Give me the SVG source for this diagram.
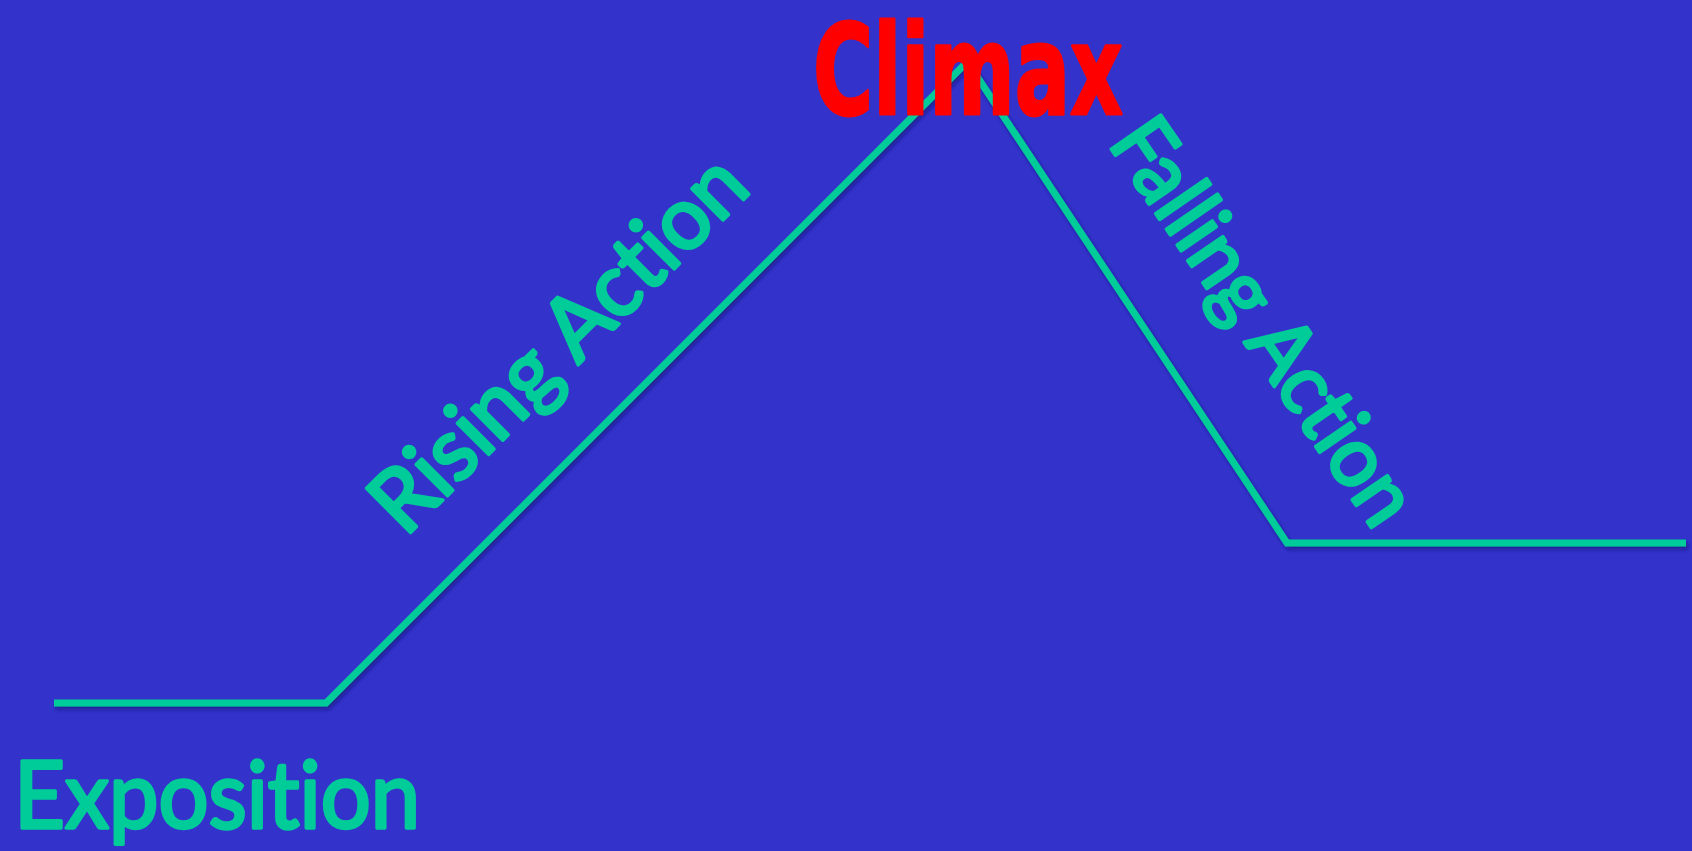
<svg xmlns="http://www.w3.org/2000/svg" width="1692" height="851" viewBox="0 0 1692 851">
  <defs>
    <filter id="shadow" x="-5%" y="-5%" width="110%" height="110%">
      <feDropShadow dx="2" dy="3" stdDeviation="2" flood-color="#15156a" flood-opacity="0.6"/>
    </filter>
  </defs>
  <style>
    .bg { fill: #3333CC; }
    .plot { fill: none; stroke: #00CC99; stroke-width: 7; stroke-linecap: butt; stroke-linejoin: miter; filter: url(#shadow); }
    .lbl { fill: #00CC99; stroke: #00CC99; stroke-width: 3.5; stroke-linejoin: round; font-family: "Lato", "Open Sans", sans-serif; font-weight: normal; font-variant-ligatures: none; font-feature-settings: "liga" 0, "clig" 0; }
    .climax { fill: #FF0000; stroke: #FF0000; stroke-width: 3; stroke-linejoin: round; font-family: "DejaVu Sans", "Liberation Sans", sans-serif; font-weight: bold; font-variant-ligatures: none; }
  </style>
  <rect class="bg" x="0" y="0" width="1692" height="851"/>
  <g id="connectors">
    <polyline class="plot" points="54,703 326,703 965,64"/>
    <polyline class="plot" points="968,63 1287,543 1686,543"/>
  </g>
  <g id="exposition">
    <text class="lbl" x="14" y="828" font-size="94" textLength="406" lengthAdjust="spacingAndGlyphs">Exposition</text>
  </g>
  <g id="rising-action">
    <text class="lbl" transform="translate(405,538) rotate(-45)" font-size="87" textLength="492" lengthAdjust="spacingAndGlyphs">Rising Action</text>
  </g>
  <g id="falling-action">
    <text class="lbl" transform="translate(1107,143) rotate(55.5)" font-size="84" textLength="472" lengthAdjust="spacingAndGlyphs">Falling Action</text>
  </g>
  <g id="climax">
    <text class="climax" x="813" y="114" font-size="124" textLength="310" lengthAdjust="spacingAndGlyphs">Climax</text>
  </g>
</svg>
